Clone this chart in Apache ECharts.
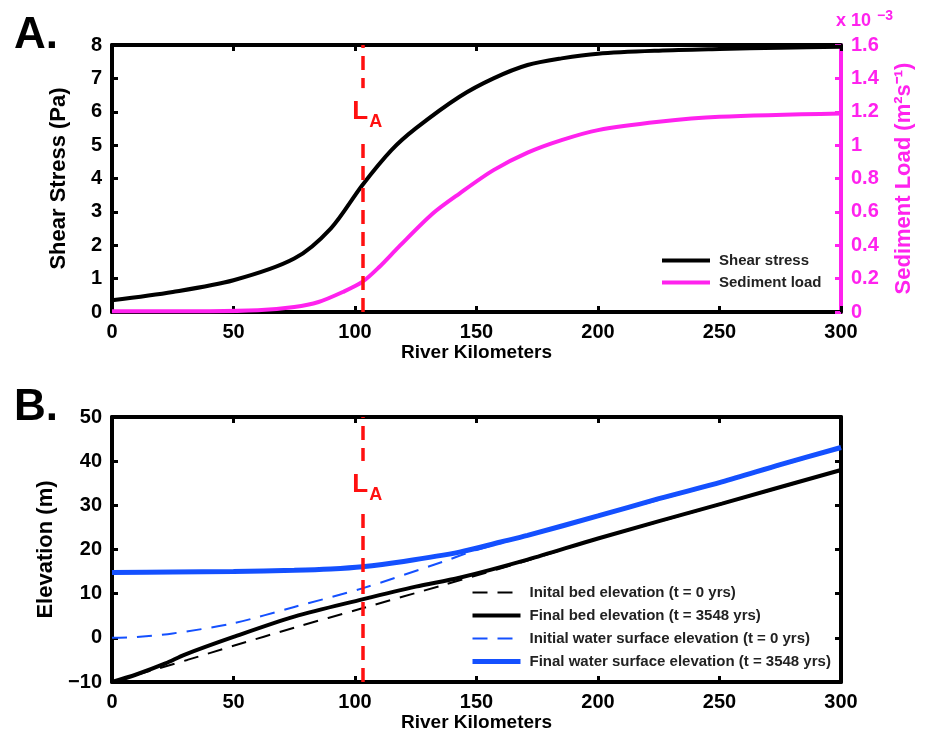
<!DOCTYPE html>
<html>
<head>
<meta charset="utf-8">
<script src="https://cdn.jsdelivr.net/npm/echarts@6/dist/echarts.min.js"></script>
<style>
html, body { margin: 0; background: #fff; }
#main { width: 925px; height: 740px; }
</style>
</head>
<body>
<div id="main"></div>
<script>
// A. shear stress and sediment load along the river
var shearKm = [0, 25, 50, 75, 90, 103, 115, 125, 143, 157, 171, 185, 200, 225, 250, 275, 300];
var shearPa = [0.35, 0.6, 0.95, 1.6, 2.5, 3.8, 4.85, 5.5, 6.45, 7.0, 7.4, 7.6, 7.74, 7.83, 7.88, 7.92, 7.95];
var sedKm = [0, 40, 60, 75, 85, 95, 103, 110, 118, 132, 143, 157, 171, 185, 200, 225, 250, 300];
var sedLoad = [0.005, 0.005, 0.01, 0.03, 0.06, 0.12, 0.18, 0.27, 0.39, 0.59, 0.71, 0.85, 0.955, 1.03, 1.09, 1.14, 1.17, 1.19]; // x 10^-3

// B. bed and water surface elevations
var bedKm0 = [0, 31, 50, 75, 103, 136, 171, 200, 251, 300];
var bed0 = [-10, -5.0, -1.8, 2.3, 6.7, 11.9, 17.5, 22.4, 30.3, 37.9];
var bedKm1 = [0, 10, 22, 30, 50, 75, 103, 125, 143, 171, 200, 251, 300];
var bed1 = [-10, -8.3, -5.8, -3.8, 0.2, 4.8, 8.7, 11.6, 13.6, 17.7, 22.5, 30.4, 38.0];
var wsKm0 = [0, 10, 25, 50, 75, 103, 136, 150, 171, 200, 251, 300];
var ws0 = [0, 0.2, 1.0, 3.3, 7.0, 11.2, 17.2, 19.9, 23.1, 27.5, 35.2, 43.0];
var wsKm1 = [0, 25, 50, 75, 90, 103, 120, 143, 160, 171, 200, 225, 251, 275, 300];
var ws1 = [14.8, 14.9, 15.0, 15.3, 15.6, 16.1, 17.3, 19.4, 21.7, 23.2, 27.6, 31.5, 35.3, 39.2, 43.1];

var laKm = 103;

var FONT = '"Liberation Sans", Arial, sans-serif';
var MAG = '#ff22ee';
var BLUE = '#1450ff';
var RED = '#ff1010';

function pairs(xs, ys) {
    return xs.map(function (x, i) { return [x, ys[i]]; });
}

function xAxisOf(grid, top) {
    return {
        type: 'value', gridIndex: grid, position: top ? 'top' : 'bottom',
        min: 0, max: 300, interval: 50,
        axisLine: { onZero: false, lineStyle: { color: '#000', width: 4 } },
        axisTick: { inside: true, length: 6, lineStyle: { color: '#000', width: 3 } },
        axisLabel: { show: !top, margin: 10, color: '#000', fontSize: 20, fontWeight: 'bold', fontFamily: FONT },
        splitLine: { show: false },
        name: top ? '' : 'River Kilometers', nameLocation: 'middle', nameGap: 30,
        nameTextStyle: { color: '#000', fontSize: 19, fontWeight: 'bold', fontFamily: FONT }
    };
}

function yAxisOf(grid, right, min, max, step, color, name, gap) {
    return {
        type: 'value', gridIndex: grid, position: right ? 'right' : 'left',
        min: min, max: max, interval: step,
        axisLine: { show: true, onZero: false, lineStyle: { color: color, width: 4 } },
        axisTick: { show: true, inside: true, length: 6, lineStyle: { color: color, width: 3 } },
        axisLabel: {
            show: !!name, margin: 10, color: color, fontSize: 20, fontWeight: 'bold', fontFamily: FONT,
            formatter: function (v) { return String(v).replace('-', '\u2212'); }
        },
        splitLine: { show: false },
        name: name || '', nameLocation: 'middle', nameGap: gap,
        nameTextStyle: { color: color, fontSize: 22, fontWeight: 'bold', fontFamily: FONT }
    };
}

function laLine() {
    return {
        silent: true, symbol: 'none', label: { show: false },
        lineStyle: { color: RED, width: 3.5, type: [14, 8] },
        data: [{ xAxis: laKm }]
    };
}

function line(name, xi, yi, xs, ys, color, width, dashed) {
    return {
        name: name, type: 'line', xAxisIndex: xi, yAxisIndex: yi,
        data: pairs(xs, ys), smooth: 0.3, symbol: 'none',
        lineStyle: { color: color, width: width, type: dashed ? [15, 10] : 'solid' },
        itemStyle: { color: color, opacity: 0 }
    };
}

var legendText = { color: '#222', fontSize: 15, fontWeight: 'bold', fontFamily: FONT, padding: [0, 0, 0, 4] };

var series = [
    line('Shear stress', 0, 0, shearKm, shearPa, '#000', 4),
    line('Sediment load', 0, 1, sedKm, sedLoad, MAG, 4),
    line('Inital bed elevation (t = 0 yrs)', 2, 2, bedKm0, bed0, '#000', 2, true),
    line('Final bed elevation (t = 3548 yrs)', 2, 2, bedKm1, bed1, '#000', 4),
    line('Initial water surface elevation (t = 0 yrs)', 2, 2, wsKm0, ws0, BLUE, 2, true),
    line('Final water surface elevation (t = 3548 yrs)', 2, 2, wsKm1, ws1, BLUE, 5)
];
series[1].markLine = laLine();
series[5].markLine = laLine();

var chart = echarts.init(document.getElementById('main'));
chart.setOption({
    animation: false,
    backgroundColor: '#fff',
    grid: [
        { left: 112, right: 84, top: 45, height: 267 },
        { left: 112, right: 84, top: 417, height: 265 }
    ],
    xAxis: [xAxisOf(0, false), xAxisOf(0, true), xAxisOf(1, false), xAxisOf(1, true)],
    yAxis: [
        yAxisOf(0, false, 0, 8, 1, '#000', 'Shear Stress (Pa)', 42),
        yAxisOf(0, true, 0, 1.6, 0.2, MAG, 'Sediment Load (m²s⁻¹)', 52),
        yAxisOf(1, false, -10, 50, 10, '#000', 'Elevation (m)', 39),
        yAxisOf(1, true, -10, 50, 10, '#000', null, 0)
    ],
    legend: [{
        orient: 'vertical', left: 660, top: 253, padding: 0, itemWidth: 48, itemHeight: 14, itemGap: 7,
        data: ['Shear stress', 'Sediment load'],
        itemStyle: { opacity: 0 }, lineStyle: { width: 'inherit', type: 'inherit' },
        textStyle: legendText
    }, {
        orient: 'vertical', left: 470, top: 585, padding: 0, itemWidth: 48, itemHeight: 14, itemGap: 8,
        data: ['Inital bed elevation (t = 0 yrs)', 'Final bed elevation (t = 3548 yrs)',
            'Initial water surface elevation (t = 0 yrs)', 'Final water surface elevation (t = 3548 yrs)'],
        itemStyle: { opacity: 0 }, lineStyle: { width: 'inherit', type: 'inherit' },
        textStyle: legendText
    }],
    series: series
});

// annotations: panel letters, L_A labels, exponent of the right axis
var pa = chart.convertToPixel({ xAxisIndex: 0, yAxisIndex: 0 }, [laKm, 5.75]);
var pb = chart.convertToPixel({ xAxisIndex: 2, yAxisIndex: 2 }, [laKm, 32.8]);
function laText(p) {
    return [{
        type: 'rect', z: 99, shape: { x: p[0] - 5, y: p[1] - 32, width: 10, height: 52 },
        style: { fill: '#fff' }
    }, {
        type: 'text', z: 100, x: p[0] - 10, y: p[1] + 5,
        style: { text: 'L', fill: RED, font: 'bold 26px ' + FONT, textVerticalAlign: 'bottom' }
    }, {
        type: 'text', z: 100, x: p[0] + 7, y: p[1] + 11,
        style: { text: 'A', fill: RED, font: 'bold 18px ' + FONT, textVerticalAlign: 'bottom' }
    }];
}
chart.setOption({
    graphic: [
        { type: 'text', x: 14, y: 14, style: { text: 'A.', fill: '#000', font: 'bold 44px ' + FONT } },
        { type: 'text', x: 14, y: 386, style: { text: 'B.', fill: '#000', font: 'bold 44px ' + FONT } },
        { type: 'text', x: 836, y: 12, style: { text: 'x 10', fill: MAG, font: 'bold 18px ' + FONT } },
        { type: 'text', x: 877, y: 9, style: { text: '\u22123', fill: MAG, font: 'bold 14px ' + FONT } }
    ].concat(laText(pa), laText(pb))
});
</script>
</body>
</html>
